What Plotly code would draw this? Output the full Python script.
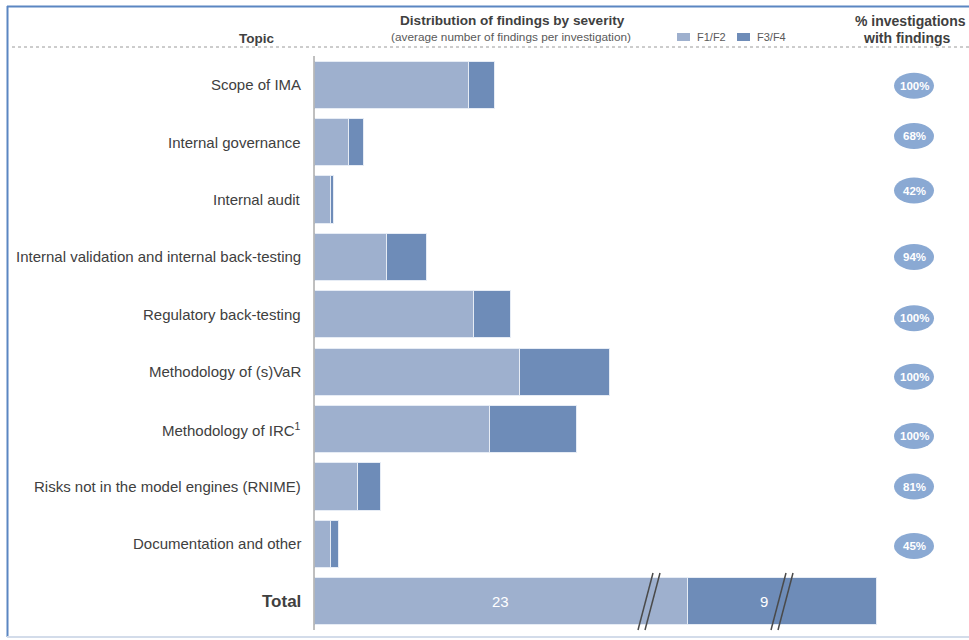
import plotly.graph_objects as go

# ---------------- data ----------------
topics = [
    "Scope of IMA",
    "Internal governance",
    "Internal audit",
    "Internal validation and internal back-testing",
    "Regulatory back-testing",
    "Methodology of (s)VaR",
    "Methodology of IRC<sup>1</sup>",
    "Risks not in the model engines (RNIME)",
    "Documentation and other",
]
f1f2 = [4.11, 0.93, 0.45, 1.92, 4.24, 5.47, 4.67, 1.17, 0.43]
f3f4 = [0.69, 0.40, 0.08, 1.07, 0.99, 2.40, 2.32, 0.59, 0.21]
pct_with_findings = [100, 68, 42, 94, 100, 100, 100, 81, 45]

total_label = "Total"
total_f1f2 = 23
total_f3f4 = 9
# the total bar is drawn broken (axis break), so its drawn length is truncated
total_broken_len = [9.95, 5.04]

series_names = ["F1/F2", "F3/F4"]

# ---------------- style ----------------
C_LIGHT = "#9EB0CE"
C_DARK = "#6E8CB8"
C_BADGE = "#8AA9D3"
C_TEXT = "#404040"
FONT = "Liberation Sans, Arial, sans-serif"

W_FIG, H_FIG = 969, 640
L, T, R, B = 314, 56, 0, 10
PW, PH = W_FIG - L - R, H_FIG - T - B
PX_PER_UNIT = 37.5
# small vertical pixel offsets of the badges (as in the original layout)
BADGE_SHIFT = [1, -6, -9, 0, 4, 5, 7, 0, 2]


def px(x):
    return (x - L) / PW


def py(y):
    return 1 - (y - T) / PH


cats = topics + [total_label]

fig = go.Figure()
line_style = dict(color="#E6ECF5", width=1)

fig.add_trace(go.Bar(y=topics, x=f1f2, orientation="h", name=series_names[0],
                     marker=dict(color=C_LIGHT, line=line_style), showlegend=False,
                     hoverinfo="x+name"))
fig.add_trace(go.Bar(y=topics, x=f3f4, orientation="h", name=series_names[1],
                     marker=dict(color=C_DARK, line=line_style), showlegend=False,
                     hoverinfo="x+name"))
fig.add_trace(go.Bar(y=[total_label], x=[total_broken_len[0]], orientation="h",
                     name=series_names[0], marker=dict(color=C_LIGHT, line=line_style),
                     showlegend=False, hoverinfo="name"))
fig.add_trace(go.Bar(y=[total_label], x=[total_broken_len[1]], orientation="h",
                     name=series_names[1], marker=dict(color=C_DARK, line=line_style),
                     showlegend=False, hoverinfo="name"))

fig.update_layout(
    width=W_FIG, height=H_FIG,
    margin=dict(l=L, r=R, t=T, b=B, pad=0),
    barmode="stack", bargap=0.18,
    plot_bgcolor="white", paper_bgcolor="white",
    font=dict(family=FONT, color=C_TEXT),
    xaxis=dict(range=[0, PW / PX_PER_UNIT], visible=False, fixedrange=True),
    yaxis=dict(categoryorder="array", categoryarray=cats, autorange="reversed",
               showticklabels=False, ticks="", showgrid=False, zeroline=False,
               showline=False, fixedrange=True),
)

shapes = []
ann = []

# category labels
for t in topics:
    ann.append(dict(xref="paper", yref="y", x=px(303), y=t, text=t, showarrow=False,
                    xanchor="right", yanchor="middle",
                    font=dict(size=15, color=C_TEXT, family=FONT)))
ann.append(dict(xref="paper", yref="y", x=px(303), y=total_label, text="<b>Total</b>",
                showarrow=False, xanchor="right", yanchor="middle",
                font=dict(size=17, color=C_TEXT, family=FONT)))

# total bar value labels
ann.append(dict(xref="x", yref="y", x=total_broken_len[0] / 2, y=total_label,
                text=str(total_f1f2), showarrow=False, xanchor="center", yanchor="middle",
                font=dict(size=15, color="white", family=FONT)))
ann.append(dict(xref="x", yref="y", x=total_broken_len[0] + 2.05, y=total_label,
                text=str(total_f3f4), showarrow=False, xanchor="center", yanchor="middle",
                font=dict(size=15, color="white", family=FONT)))

# percentage badges
for t, p, d in zip(topics, pct_with_findings, BADGE_SHIFT):
    shapes.append(dict(type="circle", xref="paper", yref="y", xsizemode="pixel",
                       ysizemode="pixel", xanchor=px(914), yanchor=cats.index(t),
                       x0=-20, x1=20, y0=-13 - d, y1=13 - d,
                       fillcolor=C_BADGE, line=dict(width=0), layer="above"))
    ann.append(dict(xref="paper", yref="y", x=px(914), y=t, text=f"<b>{p}%</b>",
                    showarrow=False, xanchor="center", yanchor="middle", yshift=-d,
                    font=dict(size=11.5, color="white", family=FONT)))

# y axis line
shapes.append(dict(type="line", xref="paper", yref="paper", x0=0, x1=0, y0=0, y1=1,
                   line=dict(color="#808080", width=1)))

# break marks on the total bar
for xt, xb in [(653, 638), (660, 645), (786, 771), (793, 778)]:
    shapes.append(dict(type="line", xref="paper", yref="paper",
                       x0=px(xt), y0=py(573), x1=px(xb), y1=py(630),
                       line=dict(color="#4A4A4A", width=1.5), layer="above"))

# header dashed line
shapes.append(dict(type="line", xref="paper", yref="paper", x0=px(12), x1=px(969),
                   y0=py(47), y1=py(47), line=dict(color="#9A9A9A", width=1, dash="dot")))

# frame
shapes.append(dict(type="line", xref="paper", yref="paper", x0=px(7.5), x1=px(7.5),
                   y0=py(6), y1=py(637), line=dict(color="#5B86C2", width=2)))
shapes.append(dict(type="line", xref="paper", yref="paper", x0=px(7), x1=px(969),
                   y0=py(6.5), y1=py(6.5), line=dict(color="#5B86C2", width=2)))
shapes.append(dict(type="line", xref="paper", yref="paper", x0=px(7), x1=px(969),
                   y0=py(637), y1=py(637), line=dict(color="#D3DCEA", width=2)))

# legend
for (x0, name, col) in [(677, series_names[0], C_LIGHT), (737, series_names[1], C_DARK)]:
    shapes.append(dict(type="rect", xref="paper", yref="paper", x0=px(x0), x1=px(x0 + 13),
                       y0=py(41), y1=py(33), fillcolor=col, line=dict(width=0)))
    ann.append(dict(xref="paper", yref="paper", x=px(x0 + 18), y=py(37), text=name,
                    showarrow=False, xanchor="left", yanchor="middle",
                    font=dict(size=11, color="#595959", family=FONT)))

# headers
ann += [
    dict(xref="paper", yref="paper", x=px(256), y=py(38), text="<b>Topic</b>",
         showarrow=False, xanchor="center", yanchor="middle",
         font=dict(size=13.5, color=C_TEXT, family=FONT)),
    dict(xref="paper", yref="paper", x=px(512), y=py(21),
         text="<b>Distribution of findings by severity</b>",
         showarrow=False, xanchor="center", yanchor="middle",
         font=dict(size=13.6, color=C_TEXT, family=FONT)),
    dict(xref="paper", yref="paper", x=px(511), y=py(37),
         text="(average number of findings per investigation)",
         showarrow=False, xanchor="center", yanchor="middle",
         font=dict(size=11.8, color="#595959", family=FONT)),
    dict(xref="paper", yref="paper", x=px(910), y=py(21), text="<b>% investigations</b>",
         showarrow=False, xanchor="center", yanchor="middle",
         font=dict(size=14, color=C_TEXT, family=FONT)),
    dict(xref="paper", yref="paper", x=px(907), y=py(38), text="<b>with findings</b>",
         showarrow=False, xanchor="center", yanchor="middle",
         font=dict(size=14, color=C_TEXT, family=FONT)),
]

fig.update_layout(shapes=shapes, annotations=ann)
fig.write_html("out.html", config={"displayModeBar": False},
               post_script="document.body.style.margin='0';document.body.style.overflow='hidden';")
